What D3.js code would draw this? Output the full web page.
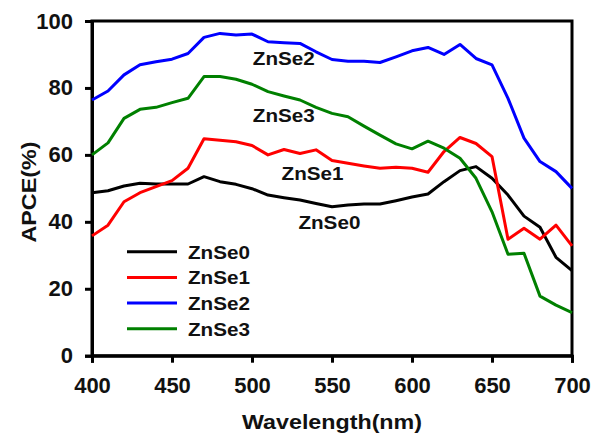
<!DOCTYPE html>
<html>
<head>
<meta charset="utf-8">
<script src="https://cdn.jsdelivr.net/npm/d3@7"></script>
<style>
  html, body { margin: 0; padding: 0; background: #fff; }
  svg text { font-family: "Liberation Sans", Arial, sans-serif; font-weight: bold; fill: #111; }
</style>
</head>
<body>
<svg id="chart" width="594" height="437"></svg>
<script>
// Wavelength grid (nm)
const wavelengths = [400,410,420,430,440,450,460,470,480,490,500,510,520,530,540,550,560,570,580,590,600,610,620,630,640,650,660,670,680,690,700];

// APCE (%) for each sample
const znse0 = [48.7,49.3,50.7,51.5,51.3,51.3,51.3,53.5,52.0,51.2,49.9,48.0,47.2,46.5,45.5,44.5,45.0,45.3,45.3,46.3,47.4,48.3,52.0,55.3,56.5,53.0,48.0,41.7,38.4,29.4,25.4];
const znse1 = [35.8,39.0,46.0,48.7,50.5,52.3,56.0,64.8,64.4,63.9,62.8,60.0,61.6,60.4,61.5,58.3,57.5,56.7,56.0,56.3,56.0,54.8,61.0,65.2,63.4,59.5,34.8,38.1,34.8,39.0,32.8];
const znse2 = [76.4,79.1,83.9,86.9,87.8,88.6,90.3,95.1,96.3,95.8,96.1,93.8,93.5,93.3,90.8,88.5,88.0,88.0,87.6,89.3,91.1,92.1,90.0,93.0,88.8,86.9,76.9,65.0,58.0,55.0,50.0];
const znse3 = [60.0,63.6,70.9,73.6,74.2,75.6,76.9,83.4,83.4,82.6,81.1,78.9,77.6,76.4,74.2,72.4,71.4,68.6,65.9,63.3,61.8,64.1,62.0,59.0,53.0,43.0,30.3,30.6,17.8,15.1,12.9];

const seriesNames = ["ZnSe0","ZnSe1","ZnSe2","ZnSe3"];
const seriesValues = [znse0, znse1, znse2, znse3];
const seriesColors = ["#000000","#ff0000","#0000ff","#008000"];

const xTicks = [400,450,500,550,600,650,700];
const yTicks = [0,20,40,60,80,100];

// Inline curve labels: [name, wavelength, APCE] at the text's left baseline
const curveLabels = [
  ["ZnSe2", 500.5, 86.9],
  ["ZnSe3", 500.5, 69.8],
  ["ZnSe1", 518.5, 52.5],
  ["ZnSe0", 529, 37.9]
];

const svg = d3.select("#chart");
const x = d3.scaleLinear().domain([400, 700]).range([92, 572]);
const y = d3.scaleLinear().domain([0, 100]).range([355.7, 21]);

// Frame
svg.append("rect")
  .attr("x", x(400)).attr("y", y(100))
  .attr("width", x(700) - x(400)).attr("height", y(0) - y(100))
  .attr("fill", "none").attr("stroke", "#000").attr("stroke-width", 3);

// Axes
const xAxis = svg.append("g")
  .attr("transform", `translate(0,${y(0)})`)
  .call(d3.axisBottom(x).tickValues(xTicks).tickSize(7).tickPadding(15).tickFormat(d3.format("d")));
const yAxis = svg.append("g")
  .attr("transform", `translate(${x(400)},0)`)
  .call(d3.axisLeft(y).tickValues(yTicks).tickSize(7).tickPadding(12).tickFormat(d3.format("d")));

[xAxis, yAxis].forEach(g => {
  g.select(".domain").attr("stroke", "#000").attr("stroke-width", 3);
  g.selectAll(".tick line").attr("stroke", "#000").attr("stroke-width", 3);
  g.selectAll(".tick text")
    .attr("fill", "#111")
    .style("font-family", '"Liberation Sans", Arial, sans-serif')
    .style("font-weight", "bold")
    .style("font-size", "22px");
});

// Curves
const line = d3.line()
  .x((d, i) => x(wavelengths[i]))
  .y(d => y(d));

seriesValues.forEach((vals, k) => {
  svg.append("path")
    .datum(vals)
    .attr("d", line)
    .attr("fill", "none")
    .attr("stroke", seriesColors[k])
    .attr("stroke-width", 3)
    .attr("stroke-linejoin", "round");
});

// Curve labels
curveLabels.forEach(([name, wl, v]) => {
  svg.append("text")
    .attr("x", x(wl)).attr("y", y(v))
    .attr("textLength", 62).attr("lengthAdjust", "spacingAndGlyphs")
    .style("font-size", "19px")
    .text(name);
});

// Legend
const legend = svg.append("g");
seriesNames.forEach((name, k) => {
  const cy = 251.7 + k * 25.7;
  legend.append("line")
    .attr("x1", 127).attr("x2", 177).attr("y1", cy).attr("y2", cy)
    .attr("stroke", seriesColors[k]).attr("stroke-width", 3);
  legend.append("text")
    .attr("x", 188).attr("y", cy + 7)
    .attr("textLength", 62).attr("lengthAdjust", "spacingAndGlyphs")
    .style("font-size", "19px")
    .text(name);
});

// Axis titles
svg.append("text")
  .attr("x", 332).attr("y", 429)
  .attr("text-anchor", "middle")
  .attr("textLength", 180).attr("lengthAdjust", "spacingAndGlyphs")
  .style("font-size", "21px")
  .text("Wavelength(nm)");

svg.append("text")
  .attr("transform", "translate(36,192) rotate(-90)")
  .attr("text-anchor", "middle")
  .attr("textLength", 101).attr("lengthAdjust", "spacingAndGlyphs")
  .style("font-size", "21px")
  .text("APCE(%)");
</script>
</body>
</html>
